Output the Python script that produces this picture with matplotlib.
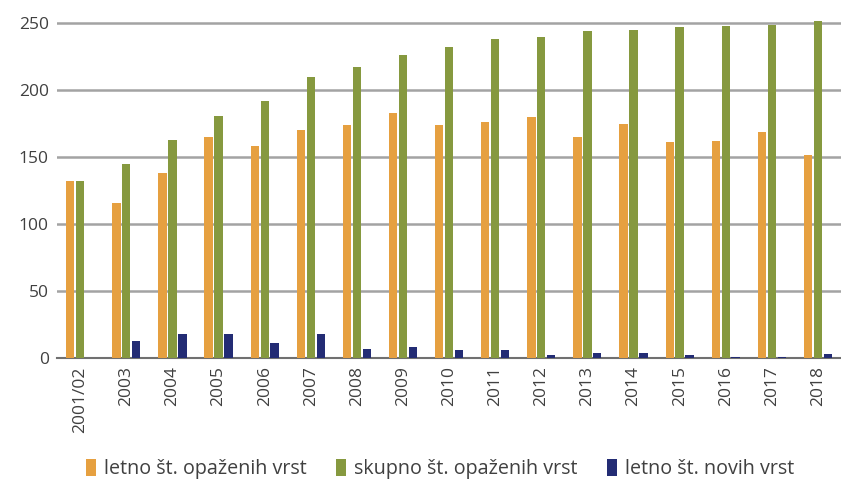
import numpy as np
import matplotlib
matplotlib.use("Agg")
import matplotlib.pyplot as plt

# values
years = ["2001/02", "2003", "2004", "2005", "2006", "2007", "2008", "2009", "2010",
         "2011", "2012", "2013", "2014", "2015", "2016", "2017", "2018"]
letno_opazenih = [132, 116, 138, 165, 158, 170, 174, 183, 174,
                  176, 180, 165, 175, 161, 162, 169, 152]
skupno_opazenih = [132, 145, 163, 181, 192, 210, 217, 226, 232,
                   238, 240, 244, 245, 247, 248, 249, 252]
letno_novih = [0, 13, 18, 18, 11, 18, 7, 8, 6,
               6, 2, 4, 4, 2, 1, 1, 3]

labels = ["letno št. opaženih vrst", "skupno št. opaženih vrst", "letno št. novih vrst"]
colors = ["#e6a040", "#86993f", "#232c74"]

plt.rcParams['font.family'] = ['Open Sans', 'DejaVu Sans']

fig = plt.figure(figsize=(8.41, 4.82), dpi=100)
# y range a bit above 250 so the tallest bar is not clipped
ax = fig.add_axes([0.068, 0.257, 0.932, 0.717])

x = np.arange(len(years))
w = 0.18
step = 0.215
for i, (vals, lab, col) in enumerate(zip([letno_opazenih, skupno_opazenih, letno_novih], labels, colors)):
    ax.bar(x + (i - 1) * step, vals, width=w, color=col, label=lab, zorder=3)

ax.set_xlim(-0.5, len(years) - 0.5)
ax.set_ylim(0, 258)
ax.set_yticks(range(0, 251, 50))
ax.yaxis.grid(True, color="#a3a3a3", linewidth=1.8, zorder=0)
ax.set_axisbelow(True)

for s in ["top", "right", "left"]:
    ax.spines[s].set_visible(False)
ax.spines["bottom"].set_color("#707070")
ax.spines["bottom"].set_linewidth(1.5)

ax.set_xticks(x)
ax.set_xticklabels(years, rotation=90)
ax.tick_params(axis="both", length=0, labelsize=12.5, colors="#404040", pad=6)

fig.legend(loc="center", bbox_to_anchor=(0.523, 0.027), ncol=3, frameon=False,
           fontsize=14.2, handlelength=0.5, handleheight=0.95, handletextpad=0.4,
           columnspacing=1.5, labelcolor="#404040")

fig.savefig("out.png", dpi=100)
